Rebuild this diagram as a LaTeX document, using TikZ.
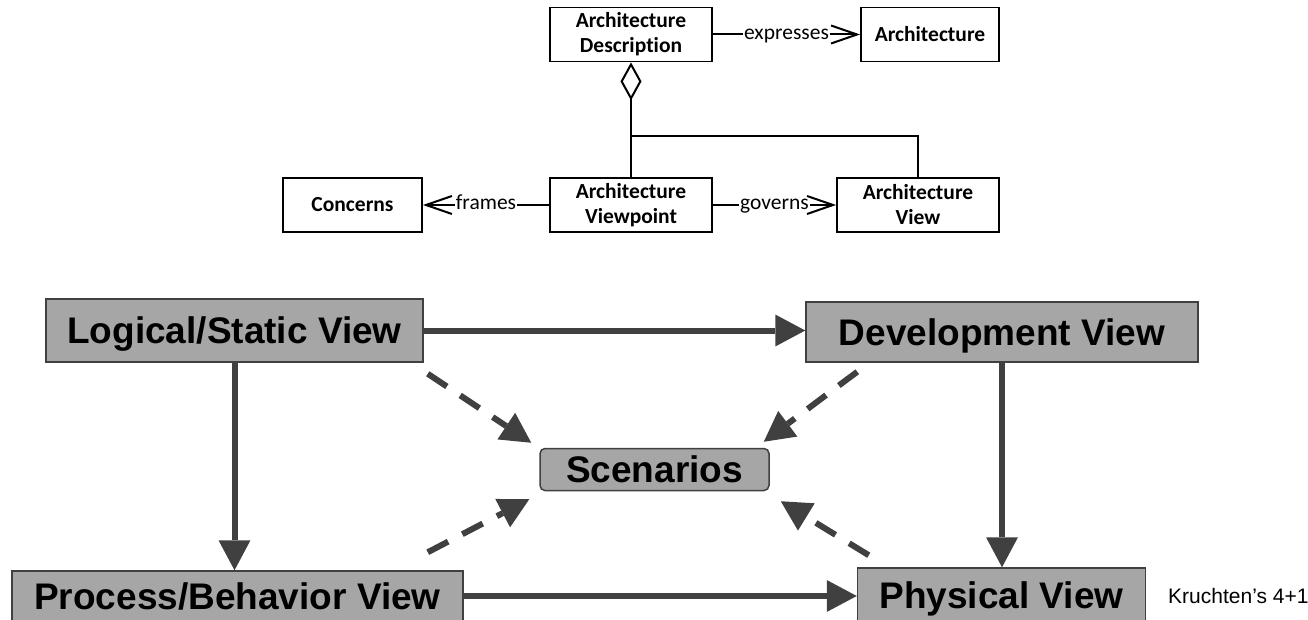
\documentclass[tikz,border=0pt]{standalone}
\usepackage{fontspec}
\setmainfont{Liberation Sans}
\newfontfamily\calfont[Ligatures=NoCommon]{Carlito}
\usetikzlibrary{arrows.meta}
\definecolor{boxgray}{HTML}{A6A6A6}
\definecolor{edgegray}{HTML}{404040}

\begin{document}
\begin{tikzpicture}[x=1pt,y=1pt,
  umlbox/.style={draw=black, line width=1.8pt, fill=white, inner sep=0pt, align=center,
    font=\calfont\bfseries\fontsize{21.5}{25}\selectfont, minimum height=54pt},
  umlline/.style={draw=black, line width=2pt},
  openhead/.style={-{Straight Barb[length=26pt,width=18pt]}},
  rel/.style={fill=white, inner sep=1pt, text height=10pt, text depth=0pt,
    font=\calfont\fontsize{21.5}{24}\selectfont},
  viewbox/.style={draw=edgegray, line width=1.5pt, fill=boxgray, inner sep=0pt,
    font=\bfseries\fontsize{37}{40}\selectfont, text height=26.5pt, text depth=0pt},
  flow/.style={draw=edgegray, line width=6pt, -{Triangle[length=30pt,width=32pt,line width=0pt]}},
  hint/.style={flow, dash pattern=on 23pt off 16pt},
]
\useasboundingbox (0,0) rectangle (1308,-620);
\clip (0,0) rectangle (1308,-620);

% ---- ISO 42010 conceptual model ----
\node[umlbox, minimum width=162pt] (desc) at (631,-34.5) {Architecture\\Description};
\node[umlbox, minimum width=138pt] (arch) at (930,-34.5) {Architecture};
\node[umlbox, minimum width=139pt] (conc) at (352.5,-205) {Concerns};
\node[umlbox, minimum width=162pt] (vp) at (631,-205) {Architecture\\Viewpoint};
\node[umlbox, minimum width=162pt] (av) at (918,-205) {Architecture\\View};
\coordinate (junc) at (631,-136);

\draw[umlline, openhead] (desc.east) -- node[rel]{expresses} (arch.west);
\draw[umlline, openhead] (vp.west) -- node[rel]{frames} (conc.east);
\draw[umlline, openhead] (vp.east) -- node[rel]{governs} (av.west);
\draw[umlline, {Diamond[open,length=38pt,width=21pt,fill=white]}-] (desc.south) -- (vp.north);
\draw[umlline] (junc) -| (av.north);

% ---- 4+1 view model ----
\node[viewbox, minimum width=377pt, minimum height=63pt] (logic) at (234.5,-330.5) {Logical/Static View};
\node[viewbox, minimum width=392pt, minimum height=60pt] (dev) at (1002,-332) {Development View};
\node[viewbox, rounded corners=5pt, minimum width=229pt, minimum height=42pt] (scen) at (654.5,-469.5) {Scenarios};
\node[viewbox, minimum width=451pt, minimum height=50pt] (proc) at (237.5,-596) {Process/Behavior View};
\node[viewbox, minimum width=288pt, minimum height=55pt] (phys) at (1001.5,-595.5) {Physical View};
\node[font=\fontsize{21}{24}\selectfont, anchor=west, inner sep=0pt, text height=15pt, text depth=0pt]
  (credit) at (1168,-595.5) {Kruchten’s 4+1};

\draw[flow] (logic.east) -- (logic.east -| dev.west);
\draw[flow] (proc.east) -- (proc.east -| phys.west);
\draw[flow] (logic.south) -- (logic.south |- proc.north);
\draw[flow] (dev.south) -- (dev.south |- phys.north);

\draw[hint] ([shift={(4,-11)}]logic.south east) -- ([shift={(-8,5)}]scen.north west);
\draw[hint] ([shift={(52,-9)}]dev.south west) -- ([shift={(-6,6)}]scen.north east);
\draw[hint] ([shift={(-36,18)}]proc.north east) -- ([shift={(-10,-8)}]scen.south west);
\draw[hint] ([shift={(12,12)}]phys.north west) -- ([shift={(11,-10)}]scen.south east);
\end{tikzpicture}
\end{document}
